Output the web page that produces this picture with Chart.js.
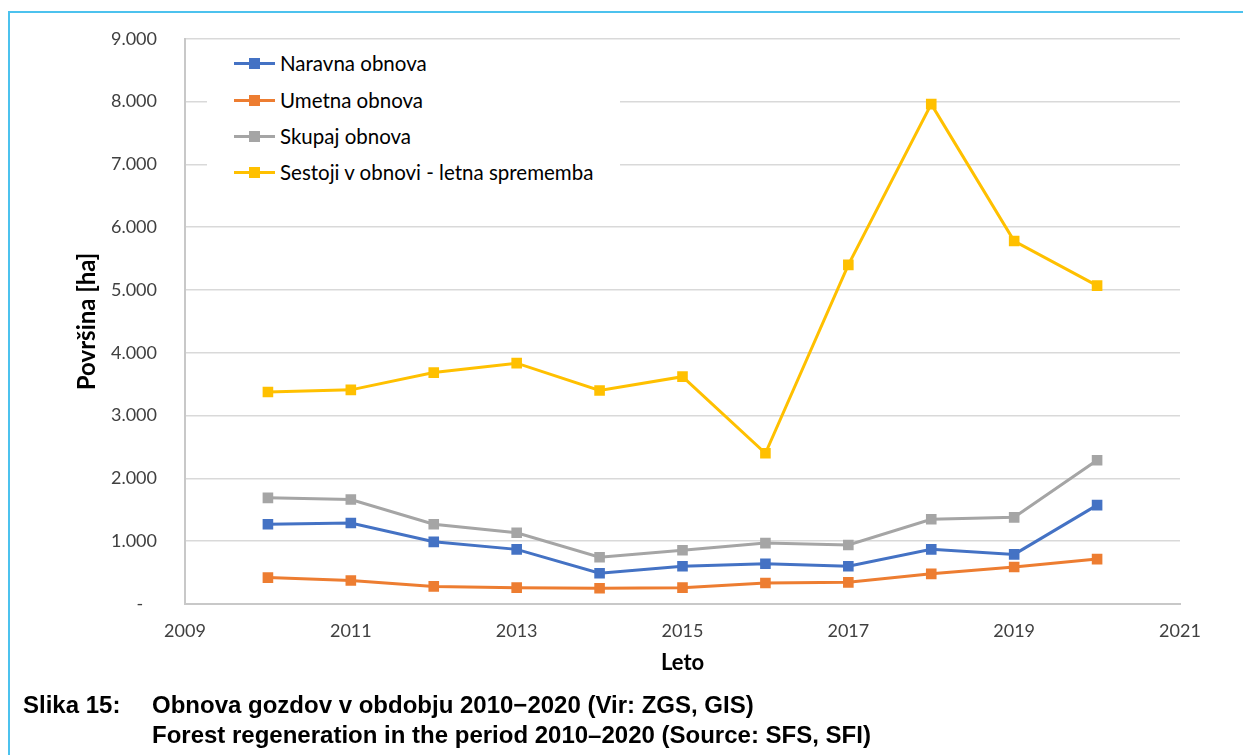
<!DOCTYPE html>
<html>
<head>
<meta charset="utf-8">
<script src="https://cdn.jsdelivr.net/npm/chart.js@4"></script>
<style>
  body { margin: 0; background: #fff; }
  #wrap { position: relative; width: 1243px; height: 755px; overflow: hidden; }
  #chart { position: absolute; left: 0; top: 0; }
  .frame { position: absolute; background: #4cc2ee; }
  #legend { position: absolute; left: 207px; top: 42px; width: 413px; height: 146px; background: #fff;
    font-family: Lato, sans-serif; font-size: 20.5px; color: #000; }
  .item { position: absolute; left: 27px; height: 22px; line-height: 22px; white-space: nowrap; }
  .swatch { display: inline-block; position: relative; width: 41px; height: 22px; vertical-align: top; margin-right: 5px; }
  .swatch .ln { position: absolute; left: 0; top: 10px; width: 41px; height: 3px; }
  .swatch .mk { position: absolute; left: 15px; top: 6px; width: 11px; height: 11px; }
  .cap { position: absolute; font-family: "Liberation Sans", Arial, sans-serif; font-weight: bold; font-size: 24px; color: #000; white-space: nowrap; }
</style>
</head>
<body>
<div id="wrap">
  <canvas id="chart" width="1243" height="755"></canvas>
  <div class="frame" style="left:8px; top:11px; width:2px; height:744px;"></div>
  <div class="frame" style="left:8px; top:11px; width:1220px; height:1.5px;"></div>
  <div class="frame" style="left:8px; top:11px; width:30px; height:2px;"></div>
  <div class="frame" style="left:1227px; top:11px; width:16px; height:2px;"></div>
  <div id="legend"></div>
  <div class="cap" style="left:23px; top:691px;">Slika 15:</div>
  <div class="cap" style="left:152px; top:691px;">Obnova gozdov v obdobju 2010−2020 (Vir: ZGS, GIS)</div>
  <div class="cap" style="left:152px; top:721px;">Forest regeneration in the period 2010–2020 (Source: SFS, SFI)</div>
</div>
<script>
// Years and areas (ha)
const years = [2010, 2011, 2012, 2013, 2014, 2015, 2016, 2017, 2018, 2019, 2020];
const naravna = [1270, 1290, 990, 870, 490, 600, 640, 600, 870, 790, 1575];
const umetna = [420, 375, 280, 260, 250, 260, 335, 345, 480, 590, 715];
const skupaj = [1690, 1665, 1270, 1135, 745, 855, 970, 940, 1350, 1380, 2290];
const sestoji = [3375, 3410, 3685, 3835, 3400, 3620, 2400, 5400, 7960, 5780, 5070];

const seriesNames = ['Naravna obnova', 'Umetna obnova', 'Skupaj obnova', 'Sestoji v obnovi - letna sprememba'];
const seriesColors = ['#4472C4', '#ED7D31', '#A5A5A5', '#FFC000'];
const seriesValues = [naravna, umetna, skupaj, sestoji];

const xTicks = [2009, 2011, 2013, 2015, 2017, 2019, 2021];
const yMax = 9000;

const tickFont = { family: 'Lato, sans-serif', size: 18 };
const titleFont = { family: 'Lato, sans-serif', size: 22, weight: 'bold' };
const yTitleFont = { family: 'Lato, sans-serif', size: 24, weight: 'bold' };

// build datasets
const datasets = seriesValues.map((vals, i) => ({
  label: seriesNames[i],
  data: vals.map((v, j) => ({ x: years[j], y: v })),
  borderColor: seriesColors[i],
  backgroundColor: seriesColors[i],
  borderWidth: 3,
  pointStyle: 'rect',
  pointRadius: 7.5,
  pointHoverRadius: 7.5,
  pointBorderWidth: 0,
  tension: 0,
}));

const ctx = document.getElementById('chart').getContext('2d');
const chart = new Chart(ctx, {
  type: 'line',
  data: { datasets: datasets },
  options: {
    responsive: false,
    animation: false,
    layout: { padding: { left: 0, right: 63, top: 34, bottom: 0 } },
    plugins: { legend: { display: false }, tooltip: { enabled: false } },
    scales: {
      x: {
        type: 'linear',
        min: xTicks[0],
        max: xTicks[xTicks.length - 1],
        afterBuildTicks: (s) => { s.ticks = xTicks.map((v) => ({ value: v })); },
        afterFit: (s) => { s.height = 151; },
        ticks: { color: '#404040', font: tickFont, padding: 16, callback: (v) => String(v), maxRotation: 0 },
        grid: { display: false, drawTicks: false },
        border: { color: '#c8c8c8', width: 2 },
        title: { display: true, text: 'Leto', color: '#000', font: titleFont, padding: { top: 0, bottom: 79 } },
      },
      y: {
        min: 0,
        max: yMax,
        afterFit: (s) => { s.width = 185; },
        ticks: {
          stepSize: 1000,
          color: '#404040',
          font: tickFont,
          padding: 28,
          callback: (v) => (v === 0 ? '-   ' : v.toLocaleString('de-DE')),
        },
        grid: { color: '#d9d9d9', lineWidth: 1.5, drawTicks: false },
        border: { color: '#c8c8c8', width: 2 },
        title: { display: true, text: 'Površina [ha]', color: '#000', font: yTitleFont, padding: { top: 73, bottom: 0 } },
      },
    },
  },
});

// HTML legend
const legend = document.getElementById('legend');
const legendTops = [10, 47, 83, 119];
seriesNames.forEach((name, i) => {
  const item = document.createElement('div');
  item.className = 'item';
  item.style.top = legendTops[i] + 'px';
  item.innerHTML = `<span class="swatch"><span class="ln" style="background:${seriesColors[i]}"></span><span class="mk" style="background:${seriesColors[i]}"></span></span>${name}`;
  legend.appendChild(item);
});
</script>
</body>
</html>
